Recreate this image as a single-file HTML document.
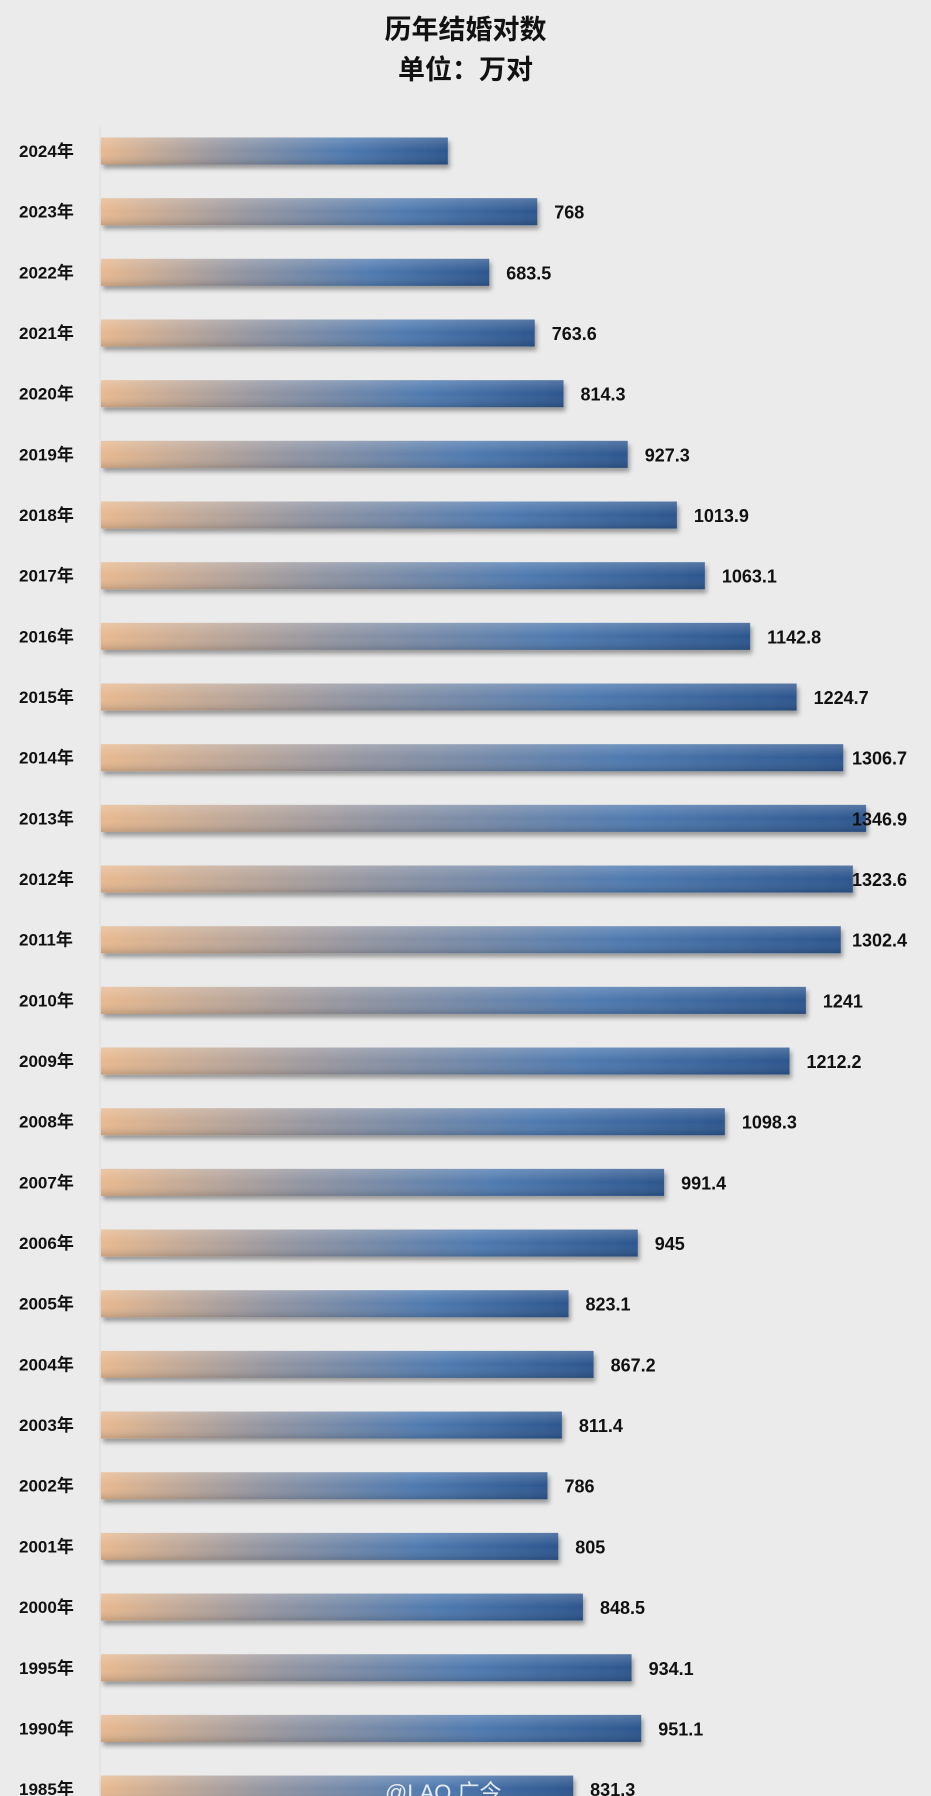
<!DOCTYPE html>
<html><head><meta charset="utf-8"><style>
html,body{margin:0;padding:0;background:#ebebeb;}
body{width:931px;height:1796px;overflow:hidden;position:relative;font-family:"Liberation Sans","Noto Sans CJK SC",sans-serif;}
.t{position:absolute;left:0;width:931px;text-align:center;font-weight:bold;font-size:27px;color:#111;}
svg{position:absolute;left:0;top:0;}
</style></head><body>
<div class="t" style="top:8px">历年结婚对数</div>
<div class="t" style="top:48px">单位：万对</div>
<svg id="c" width="931" height="1796">
<defs>
<linearGradient id="g" x1="0" x2="1" y1="0" y2="0">
<stop offset="0" stop-color="#e8b98f"/><stop offset="0.35" stop-color="#9496a2"/><stop offset="0.7" stop-color="#4f7ab0"/><stop offset="1" stop-color="#2c568e"/>
</linearGradient>
<linearGradient id="v" x1="0" x2="0" y1="0" y2="1">
<stop offset="0" stop-color="#fff" stop-opacity="0.2"/><stop offset="0.5" stop-color="#fff" stop-opacity="0"/><stop offset="1" stop-color="#000" stop-opacity="0.15"/>
</linearGradient>
<filter id="s" x="-5%" y="-50%" width="110%" height="200%"><feDropShadow dx="2" dy="4" stdDeviation="2.5" flood-color="#000" flood-opacity="0.35"/></filter>
</defs>
<line x1="100" y1="125" x2="100" y2="1796" stroke="#dcdcdc"/>
</svg>
<script>
const categories=["2024年","2023年","2022年","2021年","2020年","2019年","2018年","2017年","2016年","2015年","2014年","2013年","2012年","2011年","2010年","2009年","2008年","2007年","2006年","2005年","2004年","2003年","2002年","2001年","2000年","1995年","1990年","1985年"];
const values=[610.6,768,683.5,763.6,814.3,927.3,1013.9,1063.1,1142.8,1224.7,1306.7,1346.9,1323.6,1302.4,1241,1212.2,1098.3,991.4,945,823.1,867.2,811.4,786,805,848.5,934.1,951.1,831.3];
const labels=["","768","683.5","763.6","814.3","927.3","1013.9","1063.1","1142.8","1224.7","1306.7","1346.9","1323.6","1302.4","1241","1212.2","1098.3","991.4","945","823.1","867.2","811.4","786","805","848.5","934.1","951.1","831.3"];
const NS="http://www.w3.org/2000/svg";
const svg=document.getElementById('c');
const x0=101,k=0.568,y0=151,step=60.67,bh=27;
function xs(v){return v*k;}
function yc(i){return y0+i*step;}
categories.forEach((c,i)=>{
 const y=yc(i),w=xs(values[i]);
 const t=document.createElementNS(NS,'text');
 
 
 t.setAttribute('x',19);t.setAttribute('y',y+6);
 t.setAttribute('font-size','17');t.setAttribute('font-weight','bold');t.setAttribute('fill','#111');
 t.textContent=c;svg.appendChild(t);
 const r=document.createElementNS(NS,'rect');
 
 
 r.setAttribute('x',x0);r.setAttribute('y',y-bh/2);r.setAttribute('width',w);r.setAttribute('height',bh);
 r.setAttribute('fill','url(#g)');r.setAttribute('filter','url(#s)');svg.appendChild(r);
 const r2=document.createElementNS(NS,'rect');
 
 
 r2.setAttribute('x',x0);r2.setAttribute('y',y-bh/2);r2.setAttribute('width',w);r2.setAttribute('height',bh);
 r2.setAttribute('fill','url(#v)');svg.appendChild(r2);
 if(labels[i]){
  const l=document.createElementNS(NS,'text');
  
  
  l.setAttribute('x',Math.min(x0+w+17,852));l.setAttribute('y',y+7);
  l.setAttribute('font-size','18');l.setAttribute('font-weight','bold');l.setAttribute('fill','#111');
  l.textContent=labels[i];svg.appendChild(l);
 }
});
const wm=document.createElementNS(NS,'text');


wm.setAttribute('x',385);wm.setAttribute('y',1800);wm.setAttribute('font-size','22');wm.setAttribute('fill','#fff');wm.setAttribute('opacity','0.85');
wm.textContent='@LAQ 广今';svg.appendChild(wm);
</script>
</body></html>
